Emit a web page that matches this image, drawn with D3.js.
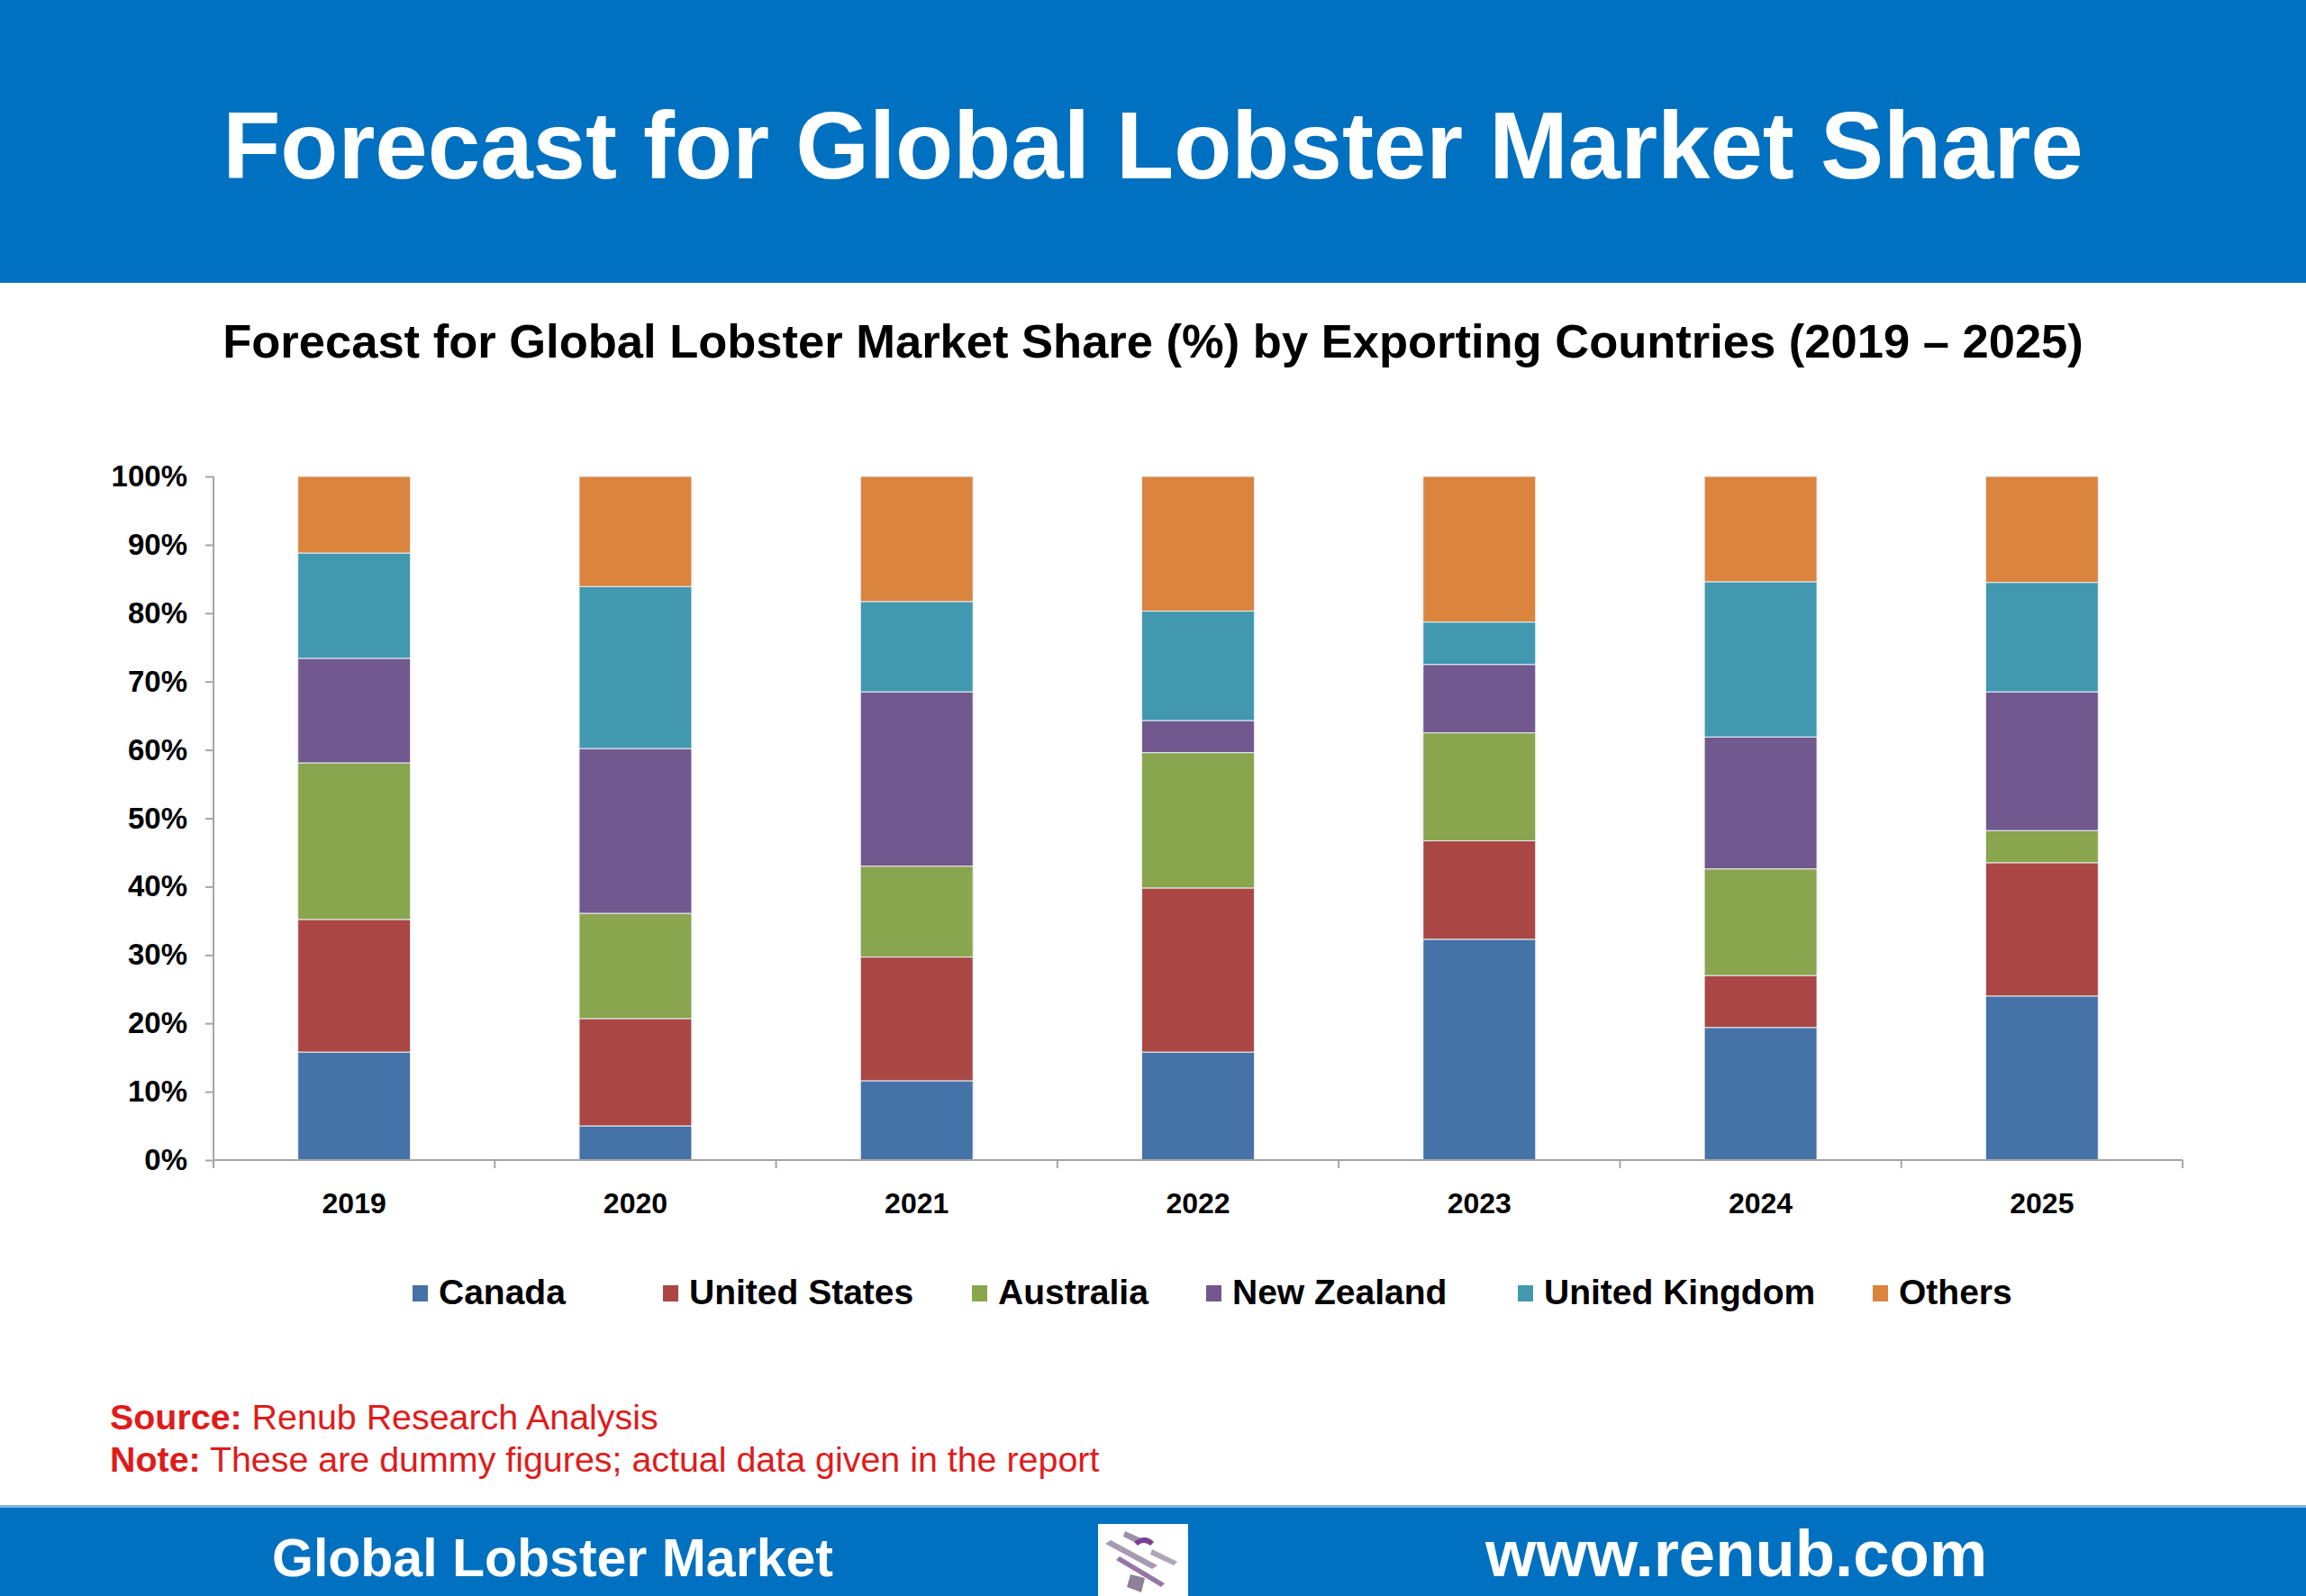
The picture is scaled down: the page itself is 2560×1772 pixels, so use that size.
<!DOCTYPE html>
<html>
<head>
<meta charset="utf-8">
<script src="https://cdn.jsdelivr.net/npm/d3@7"></script>
<style>
  html, body { margin: 0; padding: 0; background: #fff; }
  svg { display: block; }
  text { font-family: "Liberation Sans", Arial, Helvetica, sans-serif; }
</style>
</head>
<body>
<svg id="chart" width="2560" height="1772"></svg>
<script>
// ---------- DATA ----------
const years = ["2019", "2020", "2021", "2022", "2023", "2024", "2025"];
const seriesNames = ["Canada", "United States", "Australia", "New Zealand", "United Kingdom", "Others"];
const canada        = [15.8,  5.0, 11.6, 15.8, 32.3, 19.4, 24.0];
const unitedStates  = [19.4, 15.7, 18.1, 24.0, 14.4,  7.6, 19.5];
const australia     = [22.9, 15.4, 13.3, 19.8, 15.8, 15.6,  4.7];
const newZealand    = [15.3, 24.1, 25.5,  4.7, 10.0, 19.3, 20.3];
const unitedKingdom = [15.4, 23.7, 13.2, 16.0,  6.2, 22.7, 16.0];
const others        = [11.2, 16.1, 18.3, 19.7, 21.3, 15.4, 15.5];
const yTicks = [0, 0.1, 0.2, 0.3, 0.4, 0.5, 0.6, 0.7, 0.8, 0.9, 1.0];
const colors = ["#4572A7", "#AA4643", "#89A54E", "#71588F", "#4198AF", "#DB843D"];

const pageTitle = "Forecast for Global Lobster Market Share";
const chartTitle = "Forecast for Global Lobster Market Share (%) by Exporting Countries (2019 \u2013 2025)";

// ---------- LAYOUT ----------
const W = 2560, H = 1772;
const svg = d3.select("#chart");
const FONT = '"Liberation Sans", Arial, Helvetica, sans-serif';
const BLUE = "#0070C0";

// header band
svg.append("rect").attr("x", 0).attr("y", 0).attr("width", W).attr("height", 314).attr("fill", BLUE);
svg.append("text").attr("x", W / 2).attr("y", 198).attr("text-anchor", "middle")
  .attr("fill", "#fff").attr("font-weight", "bold").attr("font-size", 105).text(pageTitle);

// chart title
svg.append("text").attr("x", 1280).attr("y", 397).attr("text-anchor", "middle")
  .attr("fill", "#000").attr("font-weight", "bold").attr("font-size", 52.5).text(chartTitle);

// scales
const x = d3.scaleBand().domain(years).range([237, 2423]).paddingInner(0.6).paddingOuter(0.3);
const y = d3.scaleLinear().domain([0, 1]).range([1288, 529]);

// stacked data
const seriesArrays = [canada, unitedStates, australia, newZealand, unitedKingdom, others];
const table = years.map((yr, i) => {
  const row = { year: yr };
  const total = d3.sum(seriesArrays, s => s[i]);
  seriesNames.forEach((n, k) => row[n] = seriesArrays[k][i] / total);
  return row;
});
const stack = d3.stack().keys(seriesNames)(table);

const g = svg.append("g");
g.selectAll("g.series").data(stack).join("g")
  .attr("class", "series").attr("fill", (d, i) => colors[i])
  .selectAll("rect").data(d => d).join("rect")
  .attr("x", d => x(d.data.year))
  .attr("width", x.bandwidth())
  .attr("y", d => y(d[1]))
  .attr("height", d => y(d[0]) - y(d[1]))
  .attr("stroke", "#e8eef5").attr("stroke-width", 1);

// axes
const AXIS = "#A6A6A6";
const yAxis = d3.axisLeft(y).tickValues(yTicks).tickFormat(d3.format(".0%")).tickSize(9).tickPadding(20);
const yg = svg.append("g").attr("transform", "translate(237,0)").call(yAxis);
yg.select(".domain").attr("stroke", AXIS).attr("stroke-width", 2).attr("d", `M0,${y(1)}V${y(0)}`);
yg.selectAll(".tick line").attr("stroke", AXIS).attr("stroke-width", 2);
yg.selectAll(".tick text").attr("font-family", FONT).attr("font-size", 33).attr("font-weight", "bold").attr("fill", "#000");

// x-axis with ticks at category boundaries
const step = x.step();
const x0 = x.range()[0];
svg.append("line").attr("x1", x0).attr("x2", x.range()[1]).attr("y1", y(0)).attr("y2", y(0))
  .attr("stroke", AXIS).attr("stroke-width", 2);
svg.selectAll("line.xtick").data(d3.range(years.length + 1)).join("line")
  .attr("class", "xtick")
  .attr("x1", i => x0 + i * step).attr("x2", i => x0 + i * step)
  .attr("y1", y(0)).attr("y2", y(0) + 9)
  .attr("stroke", AXIS).attr("stroke-width", 2);
svg.selectAll("text.xlab").data(years).join("text")
  .attr("class", "xlab")
  .attr("x", d => x(d) + x.bandwidth() / 2).attr("y", 1347)
  .attr("text-anchor", "middle").attr("font-size", 32).attr("font-weight", "bold").attr("fill", "#000")
  .text(d => d);

// legend
const legendX = [458, 736, 1079, 1339, 1685, 2079];
const lg = svg.append("g").selectAll("g").data(seriesNames).join("g")
  .attr("transform", (d, i) => `translate(${legendX[i]},1448)`);
lg.append("rect").attr("x", 0).attr("y", -21).attr("width", 17).attr("height", 18)
  .attr("fill", (d, i) => colors[i]);
lg.append("text").attr("x", 29).attr("y", 0).attr("font-size", 39).attr("font-weight", "bold")
  .attr("fill", "#000").text(d => d);

// source / note
const RED = "#E01B1B";
const src = svg.append("text").attr("x", 122).attr("y", 1587).attr("font-size", 39.4).attr("fill", RED);
src.append("tspan").attr("font-weight", "bold").text("Source:");
src.append("tspan").text(" Renub Research Analysis");
const note = svg.append("text").attr("x", 122).attr("y", 1634).attr("font-size", 39.4).attr("fill", RED);
note.append("tspan").attr("font-weight", "bold").text("Note:");
note.append("tspan").text(" These are dummy figures; actual data given in the report");

// footer band
svg.append("rect").attr("x", 0).attr("y", 1673).attr("width", W).attr("height", H - 1673).attr("fill", BLUE);
svg.append("rect").attr("x", 0).attr("y", 1671).attr("width", W).attr("height", 3).attr("fill", "#7FB6E6");
svg.append("text").attr("x", 302).attr("y", 1750).attr("font-size", 59).attr("font-weight", "bold")
  .attr("fill", "#fff").text("Global Lobster Market");
svg.append("text").attr("x", 1649).attr("y", 1750).attr("font-size", 72.5).attr("font-weight", "bold")
  .attr("fill", "#fff").text("www.renub.com");

// logo box
const logo = svg.append("g").attr("transform", "translate(1219,1692)");
logo.append("rect").attr("width", 100).attr("height", 80).attr("fill", "#fff");
logo.append("path").attr("d", "M8,22 L60,50 L66,46 L14,18 Z").attr("fill", "#a89ab0");
logo.append("path").attr("d", "M30,8 L48,16 L44,22 L28,14 Z").attr("fill", "#9c8fa8");
logo.append("path").attr("d", "M40,20 Q52,10 62,20 L58,24 Q50,18 44,24 Z").attr("fill", "#7a3f8f");
logo.append("path").attr("d", "M60,28 L88,42 L84,46 L58,34 Z").attr("fill", "#b0a5b8");
logo.append("path").attr("d", "M36,56 L52,60 L48,76 L32,70 Z").attr("fill", "#8e8098");
logo.append("path").attr("d", "M20,40 L70,70 L74,66 L24,36 Z").attr("fill", "#6a3a80").attr("opacity", 0.7);
</script>
</body>
</html>
